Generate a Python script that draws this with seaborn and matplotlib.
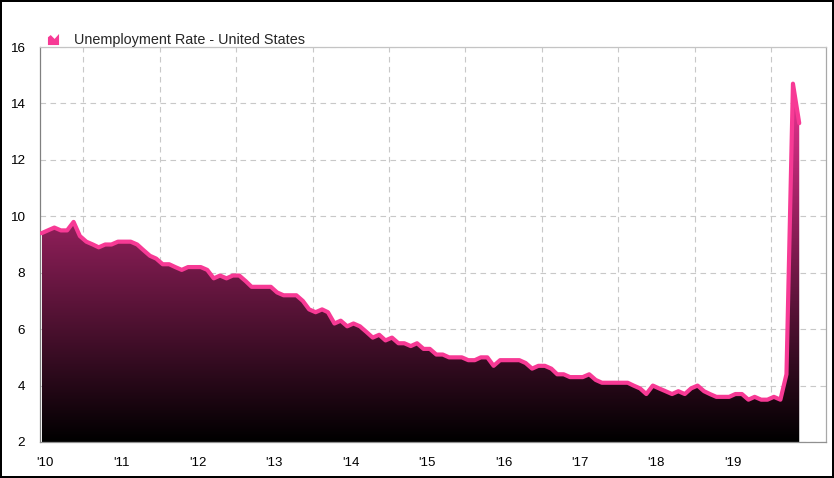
import numpy as np
import pandas as pd
import matplotlib
matplotlib.use("Agg")
import matplotlib.pyplot as plt
import matplotlib.dates as mdates
import matplotlib.ticker as mticker
from matplotlib.colors import LinearSegmentedColormap
from matplotlib.path import Path
from matplotlib.lines import Line2D
import seaborn as sns

# ---------------- data (monthly, Jun 2010 - May 2020) ----------------
series_name = "Unemployment Rate - United States"
first_month = "2010-06"
rate_2010 = [9.4, 9.5, 9.6, 9.5, 9.5, 9.8, 9.3]
rate_2011 = [9.1, 9.0, 8.9, 9.0, 9.0, 9.1, 9.1, 9.1, 9.0, 8.8, 8.6, 8.5]
rate_2012 = [8.3, 8.3, 8.2, 8.1, 8.2, 8.2, 8.2, 8.1, 7.8, 7.9, 7.8, 7.9]
rate_2013 = [7.9, 7.7, 7.5, 7.5, 7.5, 7.5, 7.3, 7.2, 7.2, 7.2, 7.0, 6.7]
rate_2014 = [6.6, 6.7, 6.6, 6.2, 6.3, 6.1, 6.2, 6.1, 5.9, 5.7, 5.8, 5.6]
rate_2015 = [5.7, 5.5, 5.5, 5.4, 5.5, 5.3, 5.3, 5.1, 5.1, 5.0, 5.0, 5.0]
rate_2016 = [4.9, 4.9, 5.0, 5.0, 4.7, 4.9, 4.9, 4.9, 4.9, 4.8, 4.6, 4.7]
rate_2017 = [4.7, 4.6, 4.4, 4.4, 4.3, 4.3, 4.3, 4.4, 4.2, 4.1, 4.1, 4.1]
rate_2018 = [4.1, 4.1, 4.0, 3.9, 3.7, 4.0, 3.9, 3.8, 3.7, 3.8, 3.7, 3.9]
rate_2019 = [4.0, 3.8, 3.7, 3.6, 3.6, 3.6, 3.7, 3.7, 3.5, 3.6, 3.5, 3.5]
rate_2020 = [3.6, 3.5, 4.4, 14.7, 13.3]

year_ticks = [2011, 2012, 2013, 2014, 2015, 2016, 2017, 2018, 2019, 2020]
year_label_years = [2010, 2011, 2012, 2013, 2014, 2015, 2016, 2017, 2018, 2019]
year_labels = ["'10", "'11", "'12", "'13", "'14", "'15", "'16", "'17", "'18", "'19"]
y_ticks = [2, 4, 6, 8, 10, 12, 14, 16]

rate = (rate_2010 + rate_2011 + rate_2012 + rate_2013 + rate_2014 + rate_2015
        + rate_2016 + rate_2017 + rate_2018 + rate_2019 + rate_2020)
dates = pd.date_range(first_month, periods=len(rate), freq="MS") + pd.Timedelta(days=14)
df = pd.DataFrame({"date": dates, "rate": rate})

# ---------------- style ----------------
LINE = "#f73a95"
TOP_FILL = (0.93, 0.20, 0.58)

sns.set_style("white")
plt.rcParams["font.family"] = ["Liberation Sans", "DejaVu Sans"]

fig = plt.figure(figsize=(8.34, 4.78), dpi=100)
fig.patch.set_facecolor("white")
fig.patch.set_edgecolor("black")
fig.patch.set_linewidth(1.5)

W, H = 834, 478
ax = fig.add_axes([39.5 / W, 1 - 442 / H, (826 - 39.5) / W, (442 - 47) / H])

ymin, ymax = 2, 16
xnum = mdates.date2num(df["date"])

# gradient fill under the line
poly = ax.fill_between(df["date"], df["rate"], ymin, facecolor="none", edgecolor="none")
clip_path = poly.get_paths()[0]
cmap = LinearSegmentedColormap.from_list("grad", [(0, 0, 0), TOP_FILL])
grad = np.linspace(0, 1, 256).reshape(-1, 1)
im = ax.imshow(grad, extent=[xnum[0], xnum[-1], ymin, max(rate)], origin="lower",
               aspect="auto", cmap=cmap, zorder=2, interpolation="bilinear")
im.set_clip_path(clip_path, transform=ax.transData)

sns.lineplot(data=df, x="date", y="rate", ax=ax, color=LINE, linewidth=3,
             zorder=3, legend=False)
for ln in ax.get_lines():
    ln.set_solid_joinstyle("round")

# axes limits
ax.set_xlim(mdates.date2num(pd.Timestamp("2010-06-05")),
            mdates.date2num(pd.Timestamp("2020-09-20")))
ax.set_ylim(ymin, ymax)
ax.set_xlabel("")
ax.set_ylabel("")

# ticks
ax.set_yticks(y_ticks)
ax.yaxis.set_major_formatter(mticker.FormatStrFormatter("%d"))
ax.xaxis.set_major_locator(mticker.FixedLocator(
    [mdates.date2num(pd.Timestamp(f"{y}-01-01")) for y in year_ticks]))
ax.xaxis.set_major_formatter(mticker.NullFormatter())
ax.xaxis.set_minor_locator(mticker.FixedLocator(
    [mdates.date2num(pd.Timestamp(f"{y}-07-01")) for y in year_label_years]))
ax.xaxis.set_minor_formatter(mticker.FixedFormatter(year_labels))

ax.tick_params(axis="x", which="major", length=5.8, width=0.75, color="#808080",
               labelbottom=False)
ax.tick_params(axis="x", which="minor", length=0, pad=11, labelsize=9.5,
               labelcolor="black")
ax.tick_params(axis="y", which="major", length=7.2, width=0.75, color="#808080",
               pad=3, labelsize=9.7, labelcolor="black")

ax.grid(True, which="major", axis="both", color="#c8c8c8",
        linestyle=(0, (5, 4)), linewidth=0.8)
ax.set_axisbelow(True)

for side, col in [("left", "#808080"), ("bottom", "#909090"),
                  ("top", "#c4c4c4"), ("right", "#a8a8a8")]:
    ax.spines[side].set_visible(True)
    ax.spines[side].set_color(col)
    ax.spines[side].set_linewidth(0.9)

# legend with small area-chart icon
icon = Path([(-1, -1), (1, -1), (1, 1), (0.2, 0.1), (-0.5, 0.8), (-1, 0.4), (-1, -1)],
            [Path.MOVETO] + [Path.LINETO] * 5 + [Path.CLOSEPOLY])
handle = Line2D([], [], marker=icon, linestyle="none", color=LINE,
                markersize=8, markeredgewidth=0)
ax.legend([handle], [series_name], loc="center left",
          bbox_to_anchor=(46 / W, 1 - 40 / H), bbox_transform=fig.transFigure,
          frameon=False, borderpad=0, borderaxespad=0, handlelength=1.0,
          handletextpad=0.95, fontsize=10.4)

fig.savefig("out.png", dpi=100)
